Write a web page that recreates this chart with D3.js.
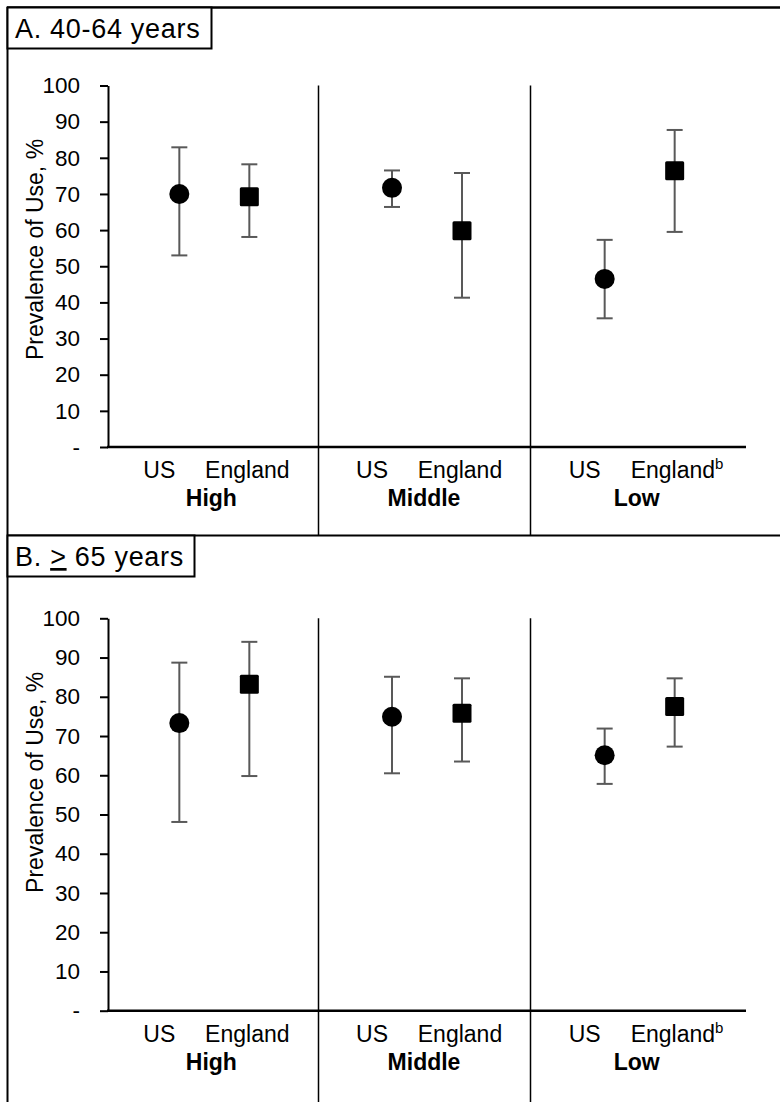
<!DOCTYPE html>
<html>
<head>
<meta charset="utf-8">
<script src="https://cdn.jsdelivr.net/npm/d3@7"></script>
<style>
  html, body { margin: 0; padding: 0; background: #fff; }
  svg { display: block; font-family: "Liberation Sans", Arial, sans-serif; }
</style>
</head>
<body>
<div id="chart"></div>
<script>
// Income groups and countries
const groups = ["High", "Middle", "Low"];
const countries = ["US", "England"];
const yTicks = [0, 10, 20, 30, 40, 50, 60, 70, 80, 90, 100];

// A. 40-64 years (order: High US, High England, Middle US, ...)
const midA = [70.0, 69.2, 71.7, 59.8, 46.5, 76.4];
const lowA = [53.0, 58.1, 66.4, 41.3, 35.6, 59.5];
const highA = [82.9, 78.2, 76.5, 75.8, 57.3, 87.7];

// B. >= 65 years
const midB = [73.3, 83.2, 74.9, 75.8, 65.1, 77.5];
const lowB = [48.1, 59.8, 60.5, 63.5, 57.8, 67.3];
const highB = [88.7, 94.0, 85.1, 84.7, 71.9, 84.7];

const width = 780, height = 1102;
const svg = d3.select("#chart").append("svg")
    .attr("width", width).attr("height", height);

// outer frame (left + top) and panel separator
svg.append("line").attr("x1", 7.5).attr("x2", 7.5).attr("y1", 7).attr("y2", height)
    .attr("stroke", "#000").attr("stroke-width", 2);
svg.append("line").attr("x1", 7).attr("x2", width).attr("y1", 7.5).attr("y2", 7.5)
    .attr("stroke", "#000").attr("stroke-width", 2.5);
svg.append("line").attr("x1", 7).attr("x2", width).attr("y1", 535.5).attr("y2", 535.5)
    .attr("stroke", "#000").attr("stroke-width", 2);

const x = d3.scaleBand().domain(groups).range([108, 746]);
const off = { US: -35, England: 35 };

function drawPanel(cfg) {
    const g = svg.append("g");
    const y = d3.scaleLinear().domain([0, 100]).range([cfg.y0, cfg.y100]);

    // title box
    g.append("rect")
        .attr("x", 7.5).attr("y", cfg.top + 0.5)
        .attr("width", cfg.boxW).attr("height", 41)
        .attr("fill", "#fff").attr("stroke", "#000").attr("stroke-width", 2);
    const t = g.append("text")
        .attr("x", 15).attr("y", cfg.top + 31)
        .style("font-size", "27px").style("letter-spacing", "0.7px")
        .attr("fill", "#000");
    cfg.title(t);

    // dividers between income groups (cell borders)
    const rows = [];
    groups.forEach((gr, i) => {
        countries.forEach((c, j) => rows.push({ group: gr, country: c,
            mid: cfg.mid[i * 2 + j], lo: cfg.lo[i * 2 + j], hi: cfg.hi[i * 2 + j] }));
    });
    for (let i = 1; i < groups.length; i++) {
        const prev = x(groups[i - 1]) + x.bandwidth() / 2 + off.England;
        const next = x(groups[i]) + x.bandwidth() / 2 + off.US;
        const dx = Math.round((prev + next) / 2) - 2.5;
        g.append("line")
            .attr("x1", dx).attr("x2", dx)
            .attr("y1", y(100)).attr("y2", cfg.bottom)
            .attr("stroke", "#000").attr("stroke-width", 1.5);
    }

    // y axis
    const axis = g.append("g")
        .attr("transform", `translate(108,0)`)
        .call(d3.axisLeft(y).tickValues(yTicks)
            .tickFormat(d => d === 0 ? "-" : d)
            .tickSize(8).tickPadding(20).tickSizeOuter(0));
    axis.select(".domain").attr("stroke", "#000").attr("stroke-width", 2);
    axis.selectAll(".tick line").attr("stroke", "#000").attr("stroke-width", 2);
    axis.selectAll(".tick text")
        .attr("fill", "#000")
        .style("font-size", "22.5px")
        .style("font-family", "'Liberation Sans', Arial, sans-serif");

    // x axis line
    g.append("line")
        .attr("x1", 107).attr("x2", 746)
        .attr("y1", y(0)).attr("y2", y(0))
        .attr("stroke", "#000").attr("stroke-width", 2.5);

    // y label
    g.append("text")
        .attr("transform", `translate(43,${y(100) + 164}) rotate(-90)`)
        .attr("text-anchor", "middle")
        .style("font-size", "23px")
        .attr("fill", "#000")
        .text("Prevalence of Use, %");

    // category labels
    groups.forEach(gr => {
        const cx = x(gr) + x.bandwidth() / 2;
        g.append("text").attr("x", cx - 55).attr("y", y(0) + 31)
            .attr("text-anchor", "middle").style("font-size", "23px").text("US");
        const e = g.append("text").attr("x", cx + 33).attr("y", y(0) + 31)
            .attr("text-anchor", "middle").style("font-size", "23px").text("England");
        if (gr === "Low") {
            e.attr("text-anchor", "start").attr("x", cx + 33 - 42);
            e.append("tspan").attr("dy", -9).style("font-size", "15px").text("b");
        }
        g.append("text").attr("x", cx - 3).attr("y", y(0) + 59)
            .attr("text-anchor", "middle").style("font-size", "23px")
            .style("font-weight", "bold").text(gr);
    });

    // error bars and markers
    const px = d => x(d.group) + x.bandwidth() / 2 + off[d.country];
    const bars = g.append("g").attr("stroke", "#595959").attr("stroke-width", 2);
    bars.selectAll("line.v").data(rows).join("line").attr("class", "v")
        .attr("x1", px).attr("x2", px)
        .attr("y1", d => y(d.lo)).attr("y2", d => y(d.hi));
    ["lo", "hi"].forEach(k => {
        bars.selectAll("line." + k).data(rows).join("line").attr("class", k)
            .attr("x1", d => px(d) - 8).attr("x2", d => px(d) + 8)
            .attr("y1", d => y(d[k])).attr("y2", d => y(d[k]));
    });
    g.selectAll("circle.pt").data(rows.filter(d => d.country === "US")).join("circle")
        .attr("class", "pt")
        .attr("cx", px).attr("cy", d => y(d.mid)).attr("r", 10)
        .attr("fill", "#000");
    g.selectAll("rect.pt").data(rows.filter(d => d.country === "England")).join("rect")
        .attr("class", "pt")
        .attr("x", d => px(d) - 9.5).attr("y", d => y(d.mid) - 9.5)
        .attr("width", 19).attr("height", 19).attr("rx", 1.5)
        .attr("fill", "#000");
}

drawPanel({
    top: 7, boxW: 204, y0: 447, y100: 85.5, bottom: 535,
    mid: midA, lo: lowA, hi: highA,
    title: t => t.text("A. 40-64 years")
});

drawPanel({
    top: 535, boxW: 187, y0: 1010.7, y100: 618.3, bottom: height,
    mid: midB, lo: lowB, hi: highB,
    title: t => {
        t.append("tspan").text("B. ");
        t.append("tspan").style("text-decoration", "underline").text(">");
        t.append("tspan").text(" 65 years");
    }
});
</script>
</body>
</html>
